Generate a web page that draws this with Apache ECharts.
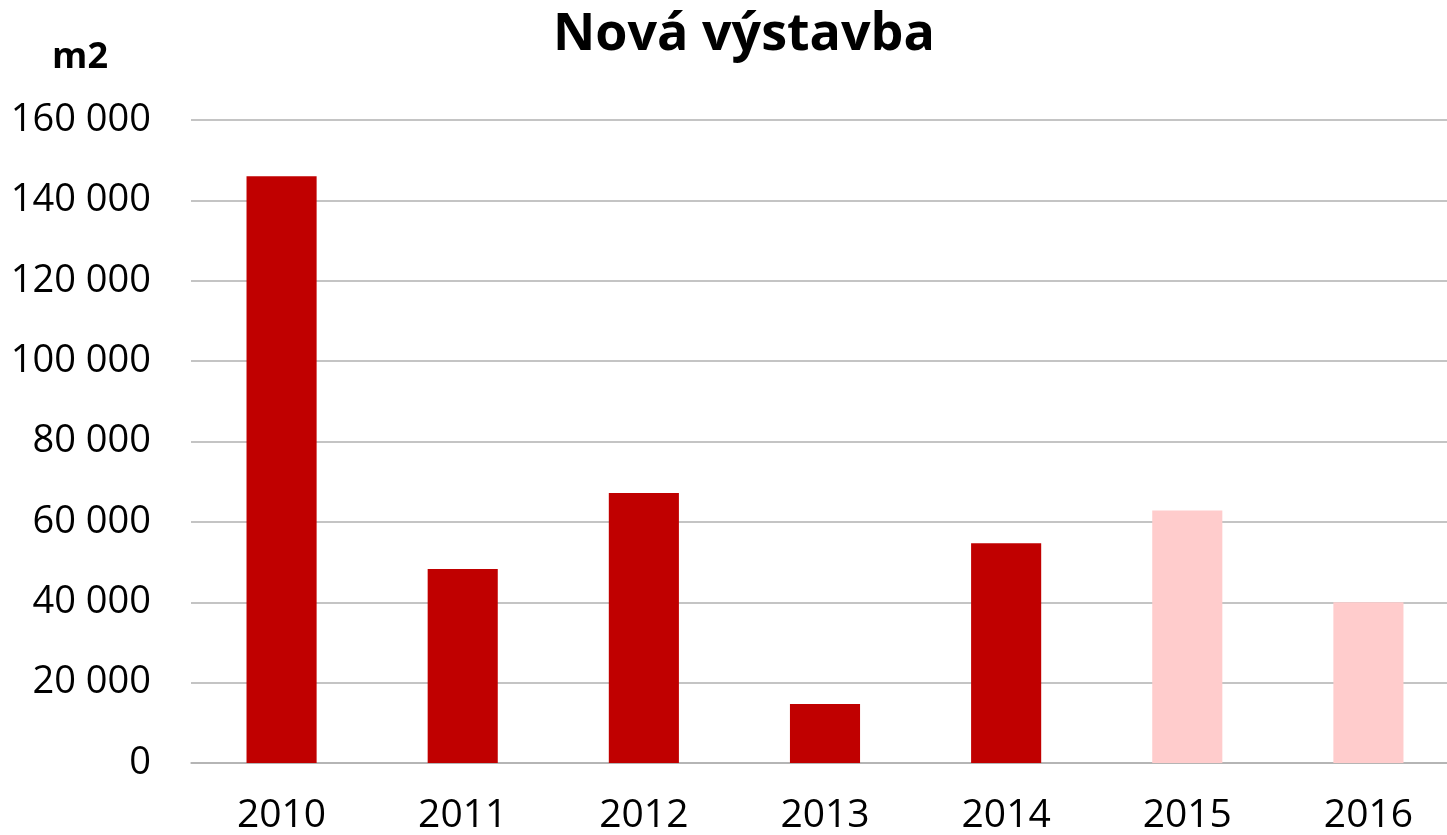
<!DOCTYPE html>
<html>
<head>
<meta charset="utf-8">
<script src="https://cdn.jsdelivr.net/npm/echarts@6/dist/echarts.min.js"></script>
<style>html,body{margin:0;padding:0;background:#fff;}#c{width:1447px;height:835px;}</style>
</head>
<body>
<div id="c"></div>
<script>
const categories = ['2010', '2011', '2012', '2013', '2014', '2015', '2016'];
const actualValues = [146000, 48300, 67200, 14700, 54700, null, null];
const estimateValues = [null, null, null, null, null, 62800, 40000];
const yTicks = [0, 20000, 40000, 60000, 80000, 100000, 120000, 140000, 160000];

const FONT = '"Open Sans", "Noto Sans", sans-serif';
const chart = echarts.init(document.getElementById('c'));
chart.setOption({
  animation: false,
  backgroundColor: '#ffffff',
  title: {
    text: 'Nová výstavba',
    left: 548,
    top: 4,
    textStyle: { fontFamily: FONT, fontWeight: 'bold', fontSize: 52, color: '#000' }
  },
  grid: { left: 191, width: 1268, top: 120, bottom: 72, containLabel: false, outerBoundsMode: 'none' },
  xAxis: {
    type: 'category',
    data: categories,
    axisLine: { show: true, lineStyle: { color: '#b0b0b0', width: 1.5 } },
    axisTick: { show: false },
    axisLabel: { color: '#000', fontFamily: FONT, fontSize: 39, margin: 33 }
  },
  yAxis: {
    type: 'value',
    min: yTicks[0],
    max: yTicks[yTicks.length - 1],
    interval: yTicks[1] - yTicks[0],
    name: 'm2',
    nameLocation: 'end',
    nameGap: 44,
    nameTextStyle: { color: '#000', fontFamily: FONT, fontWeight: 'bold', fontSize: 36, align: 'right', padding: [0, 83, 0, 0] },
    axisLine: { show: false },
    axisTick: { show: false },
    splitLine: { lineStyle: { color: '#b0b0b0', width: 1.5 } },
    axisLabel: {
      color: '#000', fontFamily: FONT, fontSize: 38, margin: 40,
      formatter: v => String(v).replace(/\B(?=(\d{3})+(?!\d))/g, ' ')
    }
  },
  series: [
    {
      type: 'bar', stack: 'a', data: actualValues, barWidth: '38.7%',
      itemStyle: { color: '#C00000' }
    },
    {
      type: 'bar', stack: 'a', data: estimateValues, barWidth: '38.7%',
      itemStyle: { color: '#FFCCCC' }
    }
  ]
});
</script>
</body>
</html>
